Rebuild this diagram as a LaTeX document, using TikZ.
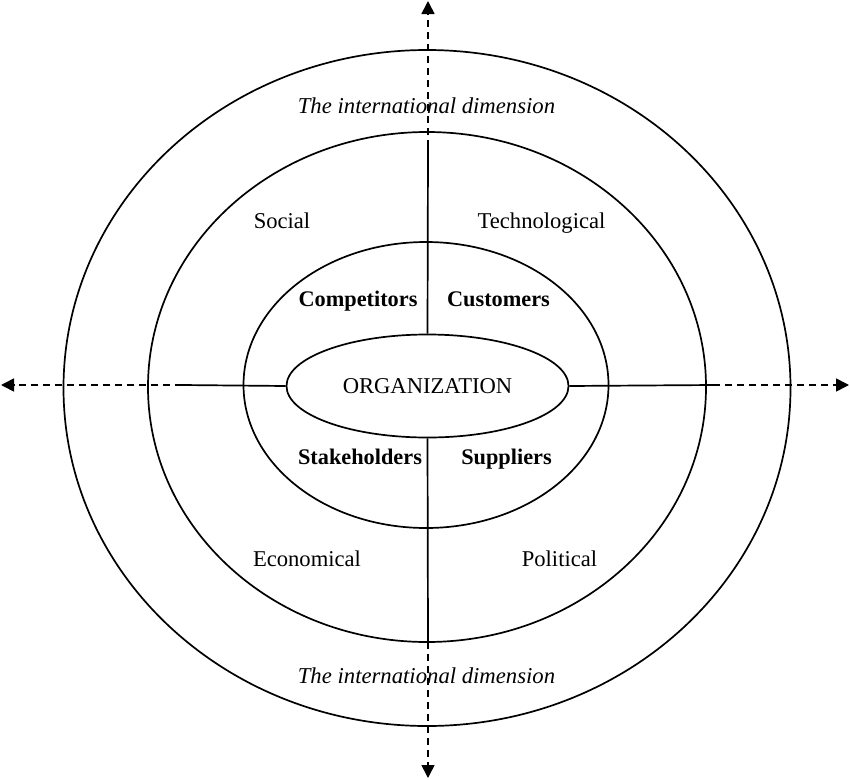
\documentclass[tikz,border=0pt]{standalone}
\usepackage{fontspec}
\setmainfont{Liberation Serif}
\usetikzlibrary{shapes.geometric,arrows.meta}
\tikzset{
  ring/.style={draw, ellipse, line width=1.7pt, inner sep=0pt},
  solidaxis/.style={line width=1.7pt},
  dashaxis/.style={line width=1.6pt, dash pattern=on 7pt off 5pt},
  arrowtip/.style={-{Triangle[length=13pt,width=13pt]}},
  txt/.style={inner sep=0pt, text height=15pt, text depth=5pt},
  orgfont/.style={font=\fontsize{22.6}{25}\selectfont},
  lbl/.style={txt, font=\fontsize{22.6}{25}\selectfont},
  lblb/.style={txt, font=\fontsize{22.3}{25}\selectfont\bfseries},
  lbli/.style={txt, font=\fontsize{22.7}{25}\selectfont\itshape}
}
\begin{document}
\begin{tikzpicture}[x=1pt,y=-1pt]
\useasboundingbox (0,0) rectangle (850,779);
% ellipses
\node[ring, minimum width=727pt, minimum height=676pt] (outer) at (427,388) {};
\node[ring, minimum width=558pt, minimum height=510pt] (middle) at (427,387) {};
\node[ring, minimum width=365pt, minimum height=286pt] (inner) at (426,385) {};
\node[ring, minimum width=282pt, minimum height=103pt, fill=white, orgfont] (org) at (427.5,386) {ORGANIZATION};
% axis end points
\coordinate (ttop) at (428,1);
\coordinate (tsol) at (428,147);
\coordinate (bbot) at (428,778);
\coordinate (bsol) at (428,642);
\coordinate (lleft) at (1,385);
\coordinate (lsol) at (182,385);
\coordinate (rright) at (849,385);
\coordinate (rsol) at (713,385);
% axes
\draw[solidaxis] (org.north) -- (tsol);
\draw[dashaxis, arrowtip] (tsol) -- (ttop);
\draw[solidaxis] (org.south) -- (bsol);
\draw[dashaxis, arrowtip] (bsol) -- (bbot);
\draw[solidaxis] (org.west) -- (lsol);
\draw[dashaxis, arrowtip] (lsol) -- (lleft);
\draw[solidaxis] (org.east) -- (rsol);
\draw[dashaxis, arrowtip] (rsol) -- (rright);
% labels
\node[lbli] (intt) at (426.5,108) {The international dimension};
\node[lbli] (intb) at (426.5,678) {The international dimension};
\node[lbl] (soc) at (282,223) {Social};
\node[lbl] (tech) at (541.5,223) {Technological};
\node[lblb] (comp) at (358,301) {Competitors};
\node[lblb] (cust) at (498.5,301) {Customers};
\node[lblb] (stak) at (360,459) {Stakeholders};
\node[lblb] (supp) at (506.5,459) {Suppliers};
\node[lbl] (econ) at (307,561) {Economical};
\node[lbl] (pol) at (559.5,561) {Political};
\end{tikzpicture}
\end{document}
